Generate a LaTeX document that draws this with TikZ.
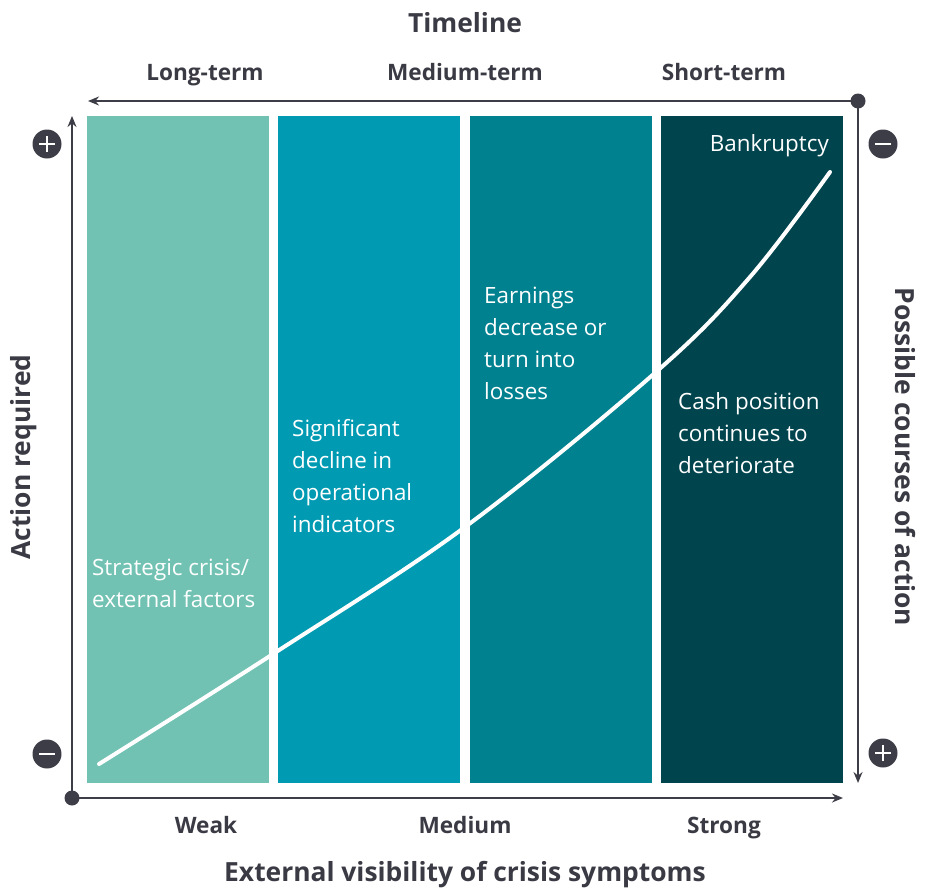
\documentclass[tikz,border=0pt]{standalone}
\usepackage{fontspec}
\setmainfont{Open Sans}
\usetikzlibrary{arrows.meta}
\definecolor{axisc}{HTML}{3D3D47}
\definecolor{txtc}{HTML}{3A3A44}
\definecolor{bandA}{HTML}{71C2B3}
\definecolor{bandB}{HTML}{009AB2}
\definecolor{bandC}{HTML}{00818F}
\definecolor{bandD}{HTML}{00444E}
\tikzset{
  axisline/.style={draw=axisc, line width=2.6pt, -{Stealth[length=11pt,width=9pt]}},
  enddot/.style={circle, fill=axisc, inner sep=0pt, minimum size=15pt},
  band/.style={fill=#1, draw=none},
  bandtext/.style={text=white, font=\fontsize{22.4}{32}\selectfont, align=left, inner sep=0pt, anchor=base west},
  headlbl/.style={text=txtc, font=\bfseries\fontsize{22.6}{26}\selectfont, inner sep=0pt, anchor=base},
  titlelbl/.style={text=txtc, font=\bfseries\fontsize{26.4}{30}\selectfont, inner sep=0pt, anchor=base},
  signc/.style={circle, fill=axisc, inner sep=0pt, minimum size=29pt},
  signbar/.style={draw=white, line width=2pt}
}
\begin{document}
\begin{tikzpicture}[x=1pt,y=-1pt]
\useasboundingbox (0,0) rectangle (933,889);
% bands
\fill[band=bandA] (87,116) rectangle (269,783);
\fill[band=bandB] (278,116) rectangle (460,783);
\fill[band=bandC] (470,116) rectangle (652,783);
\fill[band=bandD] (661,116) rectangle (843,783);
% curve
\draw[white, line width=4pt, line cap=round] plot[smooth, tension=0.6] coordinates
  {(99,764) (273,654) (465,527) (656,372) (750,277) (830,172)};
% axes
\node[enddot] (tr) at (858,101) {};
\node[enddot] (bl) at (72,798) {};
\coordinate (tl) at (88,101);
\coordinate (br) at (843,798);
\coordinate (lt) at (72,116);
\coordinate (rb) at (858,783);
\draw[axisline] (tr.center) -- (tl);
\draw[axisline] (tr.center) -- (rb);
\draw[axisline] (bl.center) -- (lt);
\draw[axisline] (bl.center) -- (br);
% signs
\node[signc] (s1) at (47,144) {};
\draw[signbar] ([xshift=-8pt]s1.center) -- ([xshift=8pt]s1.center);
\draw[signbar] ([yshift=-8pt]s1.center) -- ([yshift=8pt]s1.center);
\node[signc] (s2) at (47,754) {};
\draw[signbar] ([xshift=-8pt]s2.center) -- ([xshift=8pt]s2.center);
\node[signc] (s3) at (883,144) {};
\draw[signbar] ([xshift=-8pt]s3.center) -- ([xshift=8pt]s3.center);
\node[signc] (s4) at (883,753) {};
\draw[signbar] ([xshift=-8pt]s4.center) -- ([xshift=8pt]s4.center);
\draw[signbar] ([yshift=-8pt]s4.center) -- ([yshift=8pt]s4.center);
% titles
\node[titlelbl] (ttl) at (465,32) {Timeline};
\node[titlelbl] (btl) at (465,881) {External visibility of crisis symptoms};
\node[titlelbl, rotate=90, anchor=center] (ltl) at (24,457) {Action required};
\node[titlelbl, rotate=-90, anchor=center] (rtl) at (905,457) {Possible courses of action};
% header labels
\node[headlbl] (h1) at (205,80) {Long-term};
\node[headlbl] (h2) at (465,80) {Medium-term};
\node[headlbl] (h3) at (724,80) {Short-term};
\node[headlbl] (f1) at (206,833) {Weak};
\node[headlbl] (f2) at (465,833) {Medium};
\node[headlbl] (f3) at (724,833) {Strong};
% band texts (anchored at the baseline of the last line)
\node[bandtext] (t1) at (92,607) {Strategic crisis/\\external factors};
\node[bandtext] (t2) at (292,532) {Significant\\decline in\\operational\\indicators};
\node[bandtext] (t3) at (484,399) {Earnings\\decrease or\\turn into\\losses};
\node[bandtext] (t4) at (678,473) {Cash position\\continues to\\deteriorate};
\node[bandtext, anchor=base east] (t5) at (829,151) {Bankruptcy};
\end{tikzpicture}
\end{document}
